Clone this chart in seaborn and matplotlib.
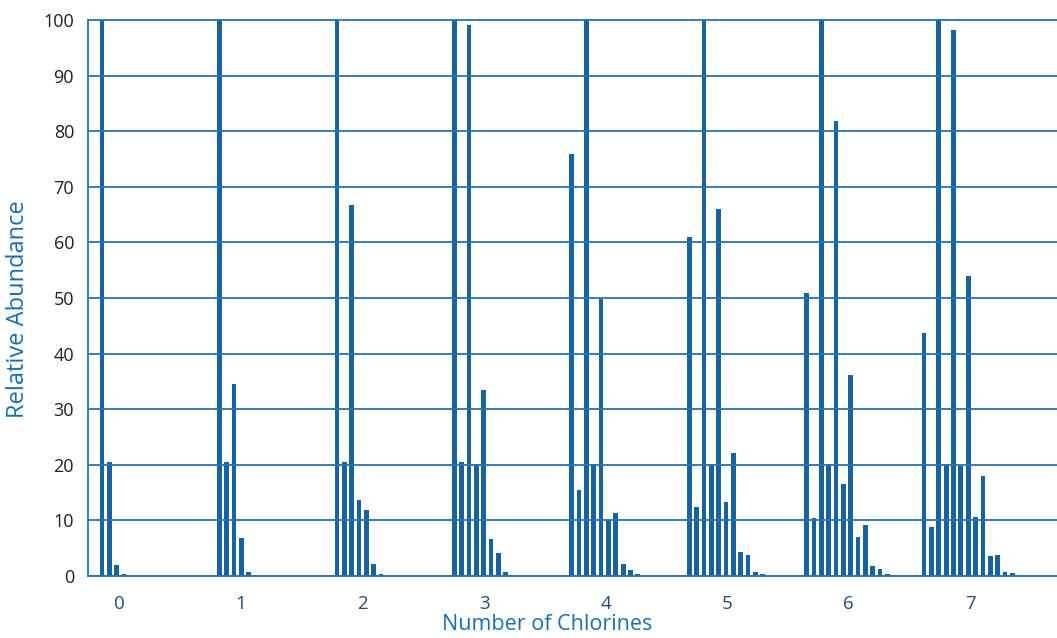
import pandas as pd
import matplotlib
matplotlib.use('Agg')
import matplotlib.pyplot as plt
import seaborn as sns

# isotope clusters, relative abundance for M, M+1, M+2, ... in each group
cl0 = [100, 20.5, 2.0, 0.3]
cl1 = [100, 20.5, 34.5, 6.8, 0.7]
cl2 = [100, 20.5, 66.8, 13.6, 11.8, 2.2, 0.4]
cl3 = [100, 20.5, 99.1, 20.1, 33.4, 6.6, 4.2, 0.8]
cl4 = [75.9, 15.5, 100, 20.2, 49.8, 10.0, 11.3, 2.2, 1.1, 0.3]
cl5 = [61.0, 12.4, 100, 20.2, 66.0, 13.3, 22.1, 4.4, 3.7, 0.8, 0.3]
cl6 = [50.9, 10.5, 100, 20.2, 81.9, 16.5, 36.1, 7.1, 9.2, 1.8, 1.2, 0.3]
cl7 = [43.7, 8.9, 100, 20.2, 98.2, 19.7, 53.9, 10.7, 17.9, 3.6, 3.7, 0.8, 0.5]
clusters = [cl0, cl1, cl2, cl3, cl4, cl5, cl6, cl7]
chlorines = ['0', '1', '2', '3', '4', '5', '6', '7']

blue = '#17629f'
grid_blue = '#2a73ae'

rows = []
for n, vals in enumerate(clusters):
    for k, v in enumerate(vals):
        rows.append({'slot': n * 16 + k, 'abundance': v})
df = pd.DataFrame(rows)

sns.set_style('white')
plt.rcParams['font.family'] = ['Open Sans', 'DejaVu Sans']

fig = plt.figure(figsize=(10.57, 6.38), dpi=100)
ax = fig.add_axes([88 / 1057, 1 - 576 / 638, 1 - 88 / 1057, (576 - 20) / 638])

sns.barplot(data=df, x='slot', y='abundance', native_scale=True, color=blue,
            width=0.64, linewidth=0, errorbar=None, saturation=1, ax=ax)

ax.set_xlim(-1.9, 130.1)
ax.set_ylim(0, 100)
ax.set_yticks(range(0, 101, 10))
ax.yaxis.grid(True, color=grid_blue, linewidth=1.3)
ax.set_axisbelow(False)
for line in ax.get_ygridlines():
    line.set_clip_on(False)

ax.set_xticks([2.4 + 16.55 * i for i in range(len(chlorines))])
ax.set_xticklabels(chlorines, color='#1f4d78', fontsize=13.5)
ax.tick_params(axis='x', length=0, pad=14)
ax.tick_params(axis='y', length=7, width=1.3, color=grid_blue, labelsize=13,
               labelcolor='#231f20', pad=3)

for side in ['top', 'right']:
    ax.spines[side].set_visible(False)
ax.spines['left'].set_color(grid_blue)
ax.spines['left'].set_linewidth(1.3)
ax.spines['bottom'].set_color(grid_blue)
ax.spines['bottom'].set_linewidth(1.3)

ax.set_xlabel('Number of Chlorines', color='#1b6fb0', fontsize=15.5)
ax.xaxis.set_label_coords(0.474, -0.068)
ax.set_ylabel('Relative Abundance', color='#1b6fb0', fontsize=17)
ax.yaxis.set_label_coords(-0.06, 0.48)

fig.savefig('out.png', dpi=100)
